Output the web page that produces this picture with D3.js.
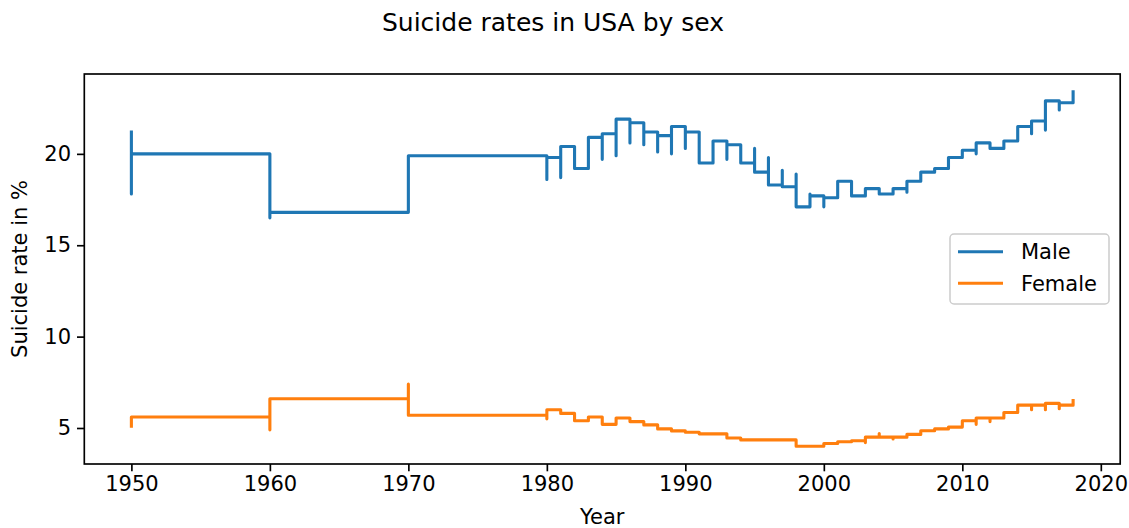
<!DOCTYPE html>
<html>
<head>
<meta charset="utf-8">
<script src="https://cdn.jsdelivr.net/npm/d3@7"></script>
<style>
  body { margin: 0; background: #ffffff; }
  text { font-family: "DejaVu Sans", sans-serif; fill: #000; }
</style>
</head>
<body>
<svg id="chart" width="1129" height="528"></svg>
<script>
// ---------------- data ----------------
const titleText = "Suicide rates in USA by sex";
const xLabel = "Year";
const yLabel = "Suicide rate in %";
const seriesNames = ["Male", "Female"];
const seriesColors = ["#1f77b4", "#ff7f0e"];

const years = [1950, 1960, 1970, 1980, 1981, 1982, 1983, 1984, 1985, 1986, 1987,
  1988, 1989, 1990, 1991, 1992, 1993, 1994, 1995, 1996, 1997, 1998, 1999, 2000,
  2001, 2002, 2003, 2004, 2005, 2006, 2007, 2008, 2009, 2010, 2011, 2012, 2013,
  2014, 2015, 2016, 2017, 2018];

// several observations per year, in drawing order (last one = level kept until next year)
const maleValues = [
  [21.2, 17.8, 20.0], [16.5, 16.8], [19.9], [18.6, 19.8], [18.7, 20.4], [19.2],
  [20.9], [19.7, 21.1], [19.9, 21.9], [20.6, 21.7], [20.5, 21.2], [20.1, 21.0],
  [20.0, 21.5], [20.3, 21.2], [19.5], [20.7], [19.7, 20.5], [19.5], [20.3, 19.0],
  [19.8, 18.3], [19.1, 18.2], [18.9, 17.1], [17.8, 17.7], [17.1, 17.6], [18.5],
  [17.7], [18.1], [17.8], [18.1], [17.9, 18.5], [19.0], [19.2], [19.8], [20.2],
  [20.0, 20.6], [20.3], [20.7], [21.5], [21.1, 21.8], [21.3, 22.9], [22.4, 22.8],
  [23.4]
];
const femaleValues = [
  [5.1, 5.6], [4.9, 6.6], [7.4, 5.7], [5.5, 6.0], [5.8], [5.4], [5.6], [5.2],
  [5.55], [5.35], [5.17], [4.95], [4.84], [4.77], [4.68], [4.68], [4.45], [4.35],
  [4.35], [4.35], [4.35], [4.0], [4.0], [4.15], [4.25], [4.3], [4.2, 4.5],
  [4.7, 4.5], [4.4, 4.5], [4.65], [4.85], [4.95], [5.05], [5.4], [5.2, 5.55],
  [5.35, 5.55], [5.85], [6.25], [6.0, 6.25], [6.0, 6.35], [6.05, 6.25], [6.5]
];
const xTicks = [1950, 1960, 1970, 1980, 1990, 2000, 2010, 2020];
const yTicks = [5, 10, 15, 20];

// ---------------- layout ----------------
const svg = d3.select("#chart");
const plot = { left: 84.3, right: 1120.2, top: 74, bottom: 464 };
const fontTick = 21, fontTitle = 25;

const seriesPts = [maleValues, femaleValues].map(vals =>
  years.flatMap((yr, i) => vals[i].map(v => [yr, v])));
const allVals = seriesPts.flat().map(d => d[1]);

const xMin = d3.min(years), xMax = d3.max(years), xPad = (xMax - xMin) * 0.05;
const yMin = d3.min(allVals), yMax = d3.max(allVals), yPad = (yMax - yMin) * 0.05;

const x = d3.scaleLinear().domain([xMin - xPad, xMax + xPad]).range([plot.left, plot.right]);
const y = d3.scaleLinear().domain([yMin - yPad, yMax + yPad]).range([plot.bottom, plot.top]);

// lines
const line = d3.line().x(d => x(d[0])).y(d => y(d[1])).curve(d3.curveStepAfter);
const clip = svg.append("clipPath").attr("id", "clip").append("rect")
  .attr("x", plot.left).attr("y", plot.top)
  .attr("width", plot.right - plot.left).attr("height", plot.bottom - plot.top);

svg.append("g").selectAll("path").data(seriesPts).join("path")
  .attr("d", line)
  .attr("fill", "none")
  .attr("stroke", (d, i) => seriesColors[i])
  .attr("stroke-width", 3.1)
  .attr("stroke-linecap", "square")
  .attr("stroke-linejoin", "round");

// axes
const xAxis = svg.append("g").attr("transform", `translate(0,${plot.bottom})`)
  .call(d3.axisBottom(x).tickValues(xTicks).tickFormat(d3.format("d")).tickSize(7.3).tickPadding(4.5));
const yAxis = svg.append("g").attr("transform", `translate(${plot.left},0)`)
  .call(d3.axisLeft(y).tickValues(yTicks).tickFormat(d3.format("d")).tickSize(7.3).tickPadding(6));
[xAxis, yAxis].forEach(g => {
  g.select(".domain").remove();
  g.selectAll(".tick line").attr("stroke", "#000").attr("stroke-width", 1.67);
  g.selectAll(".tick text").attr("font-size", fontTick).attr("font-family", "DejaVu Sans").attr("fill", "#000");
});

// frame
svg.append("rect")
  .attr("x", plot.left).attr("y", plot.top)
  .attr("width", plot.right - plot.left).attr("height", plot.bottom - plot.top)
  .attr("fill", "none").attr("stroke", "#000").attr("stroke-width", 1.67);

// labels
svg.append("text").attr("x", 553).attr("y", 31)
  .attr("text-anchor", "middle").attr("font-size", fontTitle).text(titleText);
svg.append("text").attr("x", (plot.left + plot.right) / 2).attr("y", 524)
  .attr("text-anchor", "middle").attr("font-size", fontTick).text(xLabel);
svg.append("text")
  .attr("transform", `translate(27,${(plot.top + plot.bottom) / 2}) rotate(-90)`)
  .attr("text-anchor", "middle").attr("font-size", fontTick).text(yLabel);

// legend
const lg = svg.append("g");
lg.append("rect").attr("x", 950).attr("y", 234).attr("width", 159).attr("height", 70)
  .attr("rx", 4).attr("ry", 4)
  .attr("fill", "#fff").attr("fill-opacity", 0.8)
  .attr("stroke", "#cccccc").attr("stroke-width", 1.5);
const legendY = [251.7, 283.3];
seriesNames.forEach((name, i) => {
  lg.append("line").attr("x1", 958).attr("x2", 1003)
    .attr("y1", legendY[i]).attr("y2", legendY[i])
    .attr("stroke", seriesColors[i]).attr("stroke-width", 3.1).attr("stroke-linecap", "butt");
  lg.append("text").attr("x", 1021).attr("y", legendY[i])
    .attr("dy", "0.36em").attr("font-size", fontTick).text(name);
});
</script>
</body>
</html>
